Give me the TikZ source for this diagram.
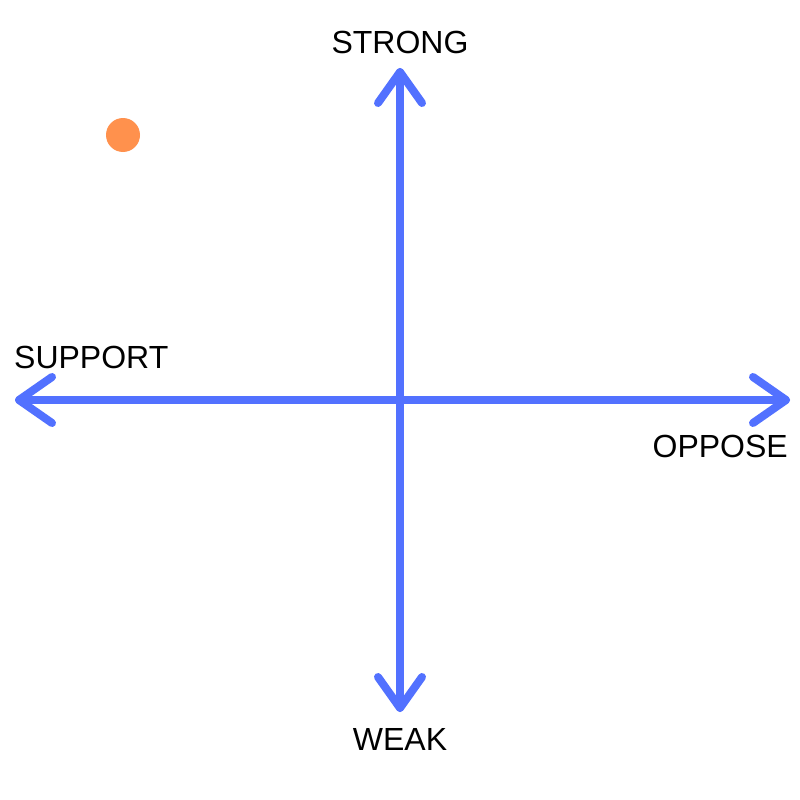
\documentclass[tikz,border=0pt]{standalone}
\usepackage{fontspec}
\setmainfont{Liberation Sans}
\usetikzlibrary{calc}
\definecolor{axisblue}{HTML}{5271FF}
\definecolor{dotorange}{HTML}{FF914D}
\begin{document}
\begin{tikzpicture}[x=1pt,y=-1pt,
  axisline/.style={draw=axisblue,line width=8pt,line cap=round,line join=round},
  lbl/.style={inner sep=0pt,font=\fontsize{32}{38}\selectfont,text=black}]
\useasboundingbox (0,0) rectangle (800,800);
\fill[white] (0,0) rectangle (800,800);
% axes endpoints
\coordinate (top) at (400,72);
\coordinate (bottom) at (400,708);
\coordinate (left) at (19,400);
\coordinate (right) at (786,400);
\draw[axisline] (top) -- (bottom);
\draw[axisline] (left) -- (right);
% chevrons
\draw[axisline] ($(top)+(-22,31)$) -- (top) -- ($(top)+(22,31)$);
\draw[axisline] ($(bottom)+(-22,-31)$) -- (bottom) -- ($(bottom)+(22,-31)$);
\draw[axisline] ($(left)+(33,-23)$) -- (left) -- ($(left)+(33,23)$);
\draw[axisline] ($(right)+(-33,-23)$) -- (right) -- ($(right)+(-33,23)$);
% labels
\node[lbl] (strong) at (400,42) {STRONG};
\node[lbl] (weak) at (400,739) {WEAK};
\node[lbl,anchor=west] (support) at (14,357) {SUPPORT};
\node[lbl,anchor=east] (oppose) at (788,446) {OPPOSE};
% dot
\fill[dotorange] (123,135) circle (17);
\end{tikzpicture}
\end{document}
